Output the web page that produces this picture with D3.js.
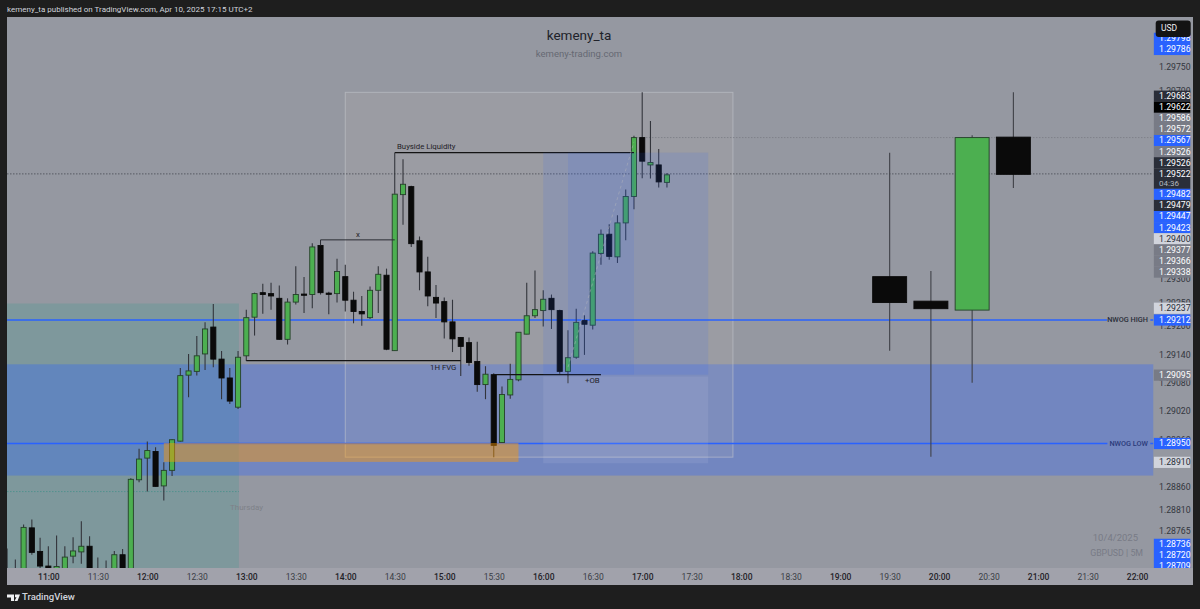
<!DOCTYPE html>
<html>
<head>
<meta charset="utf-8">
<script src="https://cdn.jsdelivr.net/npm/d3@7"></script>
<style>
  html, body { margin: 0; padding: 0; background: #1e1e1e; overflow: hidden; }
  text { font-family: Roboto, "Liberation Sans", sans-serif; }
</style>
</head>
<body>
<div id="wrapper"></div>
<script>
// 5 minute candles, first one is 10:35
const firstCandle = "10:35"
const opens = [
  1.28670,1.28670,1.28650,1.28771,1.28721,1.28690,1.28670,1.28638,1.28711,1.28720,
  1.28732,1.28670,1.28670,1.28640,1.28714,1.28640,1.28873,1.28919,1.28933,1.28860,
  1.28893,1.28955,1.29095,1.29103,1.29140,1.29197,1.29129,1.29089,1.29027,1.29136,
  1.29218,1.29270,1.29268,1.29258,1.29171,1.29250,1.29267,1.29266,1.29370,1.29269,
  1.29268,1.29304,1.29254,1.29230,1.29217,1.29275,1.29307,1.29147,1.29478,1.29495,
  1.29380,1.29314,1.29260,1.29251,1.29208,1.29175,1.29164,1.29124,1.29075,1.29096,
  1.28952,1.29053,1.29085,1.29182,1.29221,1.29232,1.29258,1.29232,1.29103,1.29133,
  1.29211,1.29201,1.29353,1.29394,1.29346,1.29418,1.29474,1.29599,1.29541,1.29541,1.29504]
const closes = [
  1.28650,1.28660,1.28772,1.28719,1.28690,1.28676,1.28689,1.28709,1.28722,1.28732,
  1.28638,1.28660,1.28660,1.28714,1.28640,1.28874,1.28917,1.28935,1.28859,1.28893,
  1.28958,1.29094,1.29104,1.29136,1.29193,1.29129,1.29089,1.29040,1.29133,1.29217,
  1.29268,1.29266,1.29263,1.29171,1.29250,1.29266,1.29265,1.29367,1.29270,1.29267,
  1.29315,1.29254,1.29230,1.29225,1.29275,1.29309,1.29150,1.29479,1.29500,1.29374,
  1.29314,1.29263,1.29248,1.29208,1.29172,1.29156,1.29122,1.29075,1.29097,1.28946,
  1.29054,1.29086,1.29186,1.29221,1.29234,1.29256,1.29234,1.29103,1.29132,1.29207,
  1.29203,1.29354,1.29394,1.29347,1.29418,1.29474,1.29599,1.29549,1.29546,1.29505,1.29520]
const highs = [
  1.28727,1.28704,1.28778,1.28789,1.28750,1.28732,1.28755,1.28732,1.28751,1.28785,
  1.28753,1.28708,1.28702,1.28722,1.28726,1.28876,1.28939,1.28954,1.28942,1.28910,
  1.28959,1.29110,1.29140,1.29178,1.29207,1.29246,1.29146,1.29110,1.29146,1.29234,
  1.29270,1.29289,1.29291,1.29285,1.29258,1.29326,1.29303,1.29375,1.29372,1.29272,
  1.29342,1.29329,1.29272,1.29263,1.29283,1.29326,1.29321,1.29481,1.29553,1.29497,
  1.29389,1.29346,1.29286,1.29260,1.29255,1.29176,1.29175,1.29166,1.29114,1.29099,
  1.29071,1.29119,1.29186,1.29291,1.29317,1.29275,1.29266,1.29234,1.29190,1.29236,
  1.29222,1.29358,1.29404,1.29415,1.29434,1.29489,1.29603,1.29695,1.29634,1.29575,1.29524]
const lows = [
  1.28640,1.28650,1.28640,1.28714,1.28676,1.28649,1.28650,1.28630,1.28696,1.28695,
  1.28630,1.28650,1.28650,1.28630,1.28630,1.28630,1.28868,1.28848,1.28858,1.28829,
  1.28881,1.28954,1.29048,1.29094,1.29106,1.29112,1.29044,1.29034,1.29023,1.29125,
  1.29179,1.29225,1.29234,1.29170,1.29160,1.29245,1.29227,1.29237,1.29266,1.29224,
  1.29249,1.29230,1.29205,1.29200,1.29214,1.29227,1.29148,1.29147,1.29414,1.29367,
  1.29275,1.29241,1.29216,1.29173,1.29144,1.29093,1.29115,1.29060,1.29044,1.28921,
  1.28952,1.29045,1.29082,1.29182,1.29216,1.29198,1.29193,1.29098,1.29078,1.29130,
  1.29138,1.29192,1.29329,1.29340,1.29333,1.29381,1.29447,1.29513,1.29512,1.29493,1.29493]

// the four big candles on the right
const bigTimes = ["19:30", "19:55", "20:20", "20:45"]
const bigOpens = [1.29304, 1.29252, 1.29233, 1.29600]
const bigHighs = [1.29567, 1.29316, 1.29604, 1.29695]
const bigLows = [1.29147, 1.28922, 1.29079, 1.29492]
const bigCloses = [1.29249, 1.29236, 1.29599, 1.29521]

// price axis
const priceTicks = [1.29750, 1.29700, 1.29300, 1.29250, 1.29200, 1.29140, 1.29080, 1.29020, 1.28960, 1.28860, 1.28810, 1.28765]
const labelPrices = [1.29798, 1.29786, 1.29683, 1.29622, 1.29586, 1.29572, 1.29567, 1.29526, 1.29526, 1.29522, 1.29482, 1.29479, 1.29447, 1.29423, 1.29400, 1.29377, 1.29366, 1.29338, 1.29237, 1.29212, 1.29095, 1.28950, 1.28910, 1.28736, 1.28720, 1.28709]
const labelKinds = ["blue", "blue", "dark", "black", "gray", "gray", "blue", "gray", "dark", "current", "blue", "dark", "blue", "blue", "light", "gray", "gray", "gray", "light", "blue", "gray", "blue", "light", "blue", "blue", "blue"]
const currentPrice = 1.29522
const countdown = "04:36"

// drawn levels
const nwogHigh = 1.29212
const nwogLow = 1.28950
const buysideLevel = 1.29567
const xLevel = 1.29382
const xLevelEnd = 1.29370
const fvgLevel = 1.29126
const obLevel = 1.29096
const highLevel = 1.29599

const dimensions = {
  width: 1200,
  height: 609,
  left: 7,
  top: 17,
  plotRight: 1153.5,
  right: 1193,
  plotBottom: 568,
  bottom: 585,
}

const at = s => {
  const [h, m, sec] = s.split(":").map(Number)
  return new Date(2025, 3, 10, h, m, sec || 0)
}

const wrapper = d3.select("#wrapper")
  .append("svg")
    .attr("width", dimensions.width)
    .attr("height", dimensions.height)
    .style("display", "block")

const xScale = d3.scaleTime()
  .domain([at("10:35"), at("22:10")])
  .range([7.1, 1153.6])

const yScale = d3.scaleLinear()
  .domain([1.28685, 1.29854])
  .range([568.4, 17.4])

const x = s => xScale(at(s))
const y = p => yScale(p)

// background
wrapper.append("rect")
  .attr("width", dimensions.width).attr("height", dimensions.height)
  .attr("fill", "#1e1e1e")
wrapper.append("rect")
  .attr("x", dimensions.left).attr("y", dimensions.top)
  .attr("width", dimensions.right - dimensions.left)
  .attr("height", dimensions.bottom - dimensions.top)
  .attr("fill", "#9598a1")
wrapper.append("rect")
  .attr("x", dimensions.left).attr("y", dimensions.plotBottom)
  .attr("width", dimensions.right - dimensions.left)
  .attr("height", dimensions.bottom - dimensions.plotBottom)
  .attr("fill", "#a1a2ab")

const defs = wrapper.append("defs")
defs.append("clipPath").attr("id", "plot").append("rect")
  .attr("x", dimensions.left).attr("y", dimensions.top)
  .attr("width", dimensions.plotRight - dimensions.left)
  .attr("height", dimensions.plotBottom - dimensions.top)
defs.append("clipPath").attr("id", "scale").append("rect")
  .attr("x", dimensions.plotRight).attr("y", dimensions.top)
  .attr("width", dimensions.right - dimensions.plotRight)
  .attr("height", dimensions.plotBottom - dimensions.top)

const plot = wrapper.append("g").attr("clip-path", "url(#plot)")

const zone = (t0, t1, p0, p1, fill, opacity) => plot.append("rect")
  .attr("x", t0 === null ? dimensions.left : x(t0))
  .attr("width", (t1 === null ? dimensions.plotRight : x(t1)) - (t0 === null ? dimensions.left : x(t0)))
  .attr("y", y(p0))
  .attr("height", y(p1) - y(p0))
  .attr("fill", fill)
  .attr("fill-opacity", opacity)

const hline = (t0, t1, p, stroke, width, dash) => plot.append("line")
  .attr("x1", t0 === null ? dimensions.left : x(t0))
  .attr("x2", t1 === null ? dimensions.plotRight : x(t1))
  .attr("y1", y(p)).attr("y2", y(p))
  .attr("stroke", stroke)
  .attr("stroke-width", width)
  .attr("stroke-dasharray", dash)

// zones below the candles
zone(null, "12:55:30", 1.29247, 1.28600, "#089981", 0.16)
zone(null, null, 1.29118, 1.28882, "#2962ff", 0.33)
hline(null, "12:55:30", 1.28848, "#3f8f88", 0.7, "1.5 1.5")

// big grey box
plot.append("rect")
  .attr("x", x("14:00")).attr("width", x("17:55") - x("14:00"))
  .attr("y", y(1.29695)).attr("height", y(1.28921) - y(1.29695))
  .attr("fill", "#b8b6b0").attr("fill-opacity", 0.16)
  .attr("stroke", "#c6c8ce").attr("stroke-opacity", 0.55).attr("stroke-width", 1)

// levels
hline(null, "21:42", nwogHigh, "#2962ff", 1.3)
hline("22:08", null, nwogHigh, "#2962ff", 1.3)
hline(null, "21:42", nwogLow, "#2962ff", 1.3)
hline("22:08", null, nwogLow, "#2962ff", 1.3)
hline(null, null, currentPrice, "#50535c", 0.9, "1.5 1.5")
hline("16:55", null, highLevel, "#7d7f88", 0.9, "1.5 1.5")

// candles
const candles = opens.map((o, i) => ({
  time: d3.timeMinute.offset(at(firstCandle), i * 5),
  open: o, high: highs[i], low: lows[i], close: closes[i],
}))
const bigCandles = bigTimes.map((t, i) => ({
  time: at(t),
  open: bigOpens[i], high: bigHighs[i], low: bigLows[i], close: bigCloses[i],
}))
const isUp = d => d.close >= d.open

const drawCandles = (data, halfMinutes, wickColor, wickWidth) => {
  const g = plot.append("g")
  const groups = g.selectAll("g").data(data).join("g")
  groups.append("line")
    .attr("x1", d => xScale(d.time)).attr("x2", d => xScale(d.time))
    .attr("y1", d => y(d.high)).attr("y2", d => y(d.low))
    .attr("stroke", wickColor)
    .attr("stroke-width", wickWidth)
  groups.append("rect")
    .attr("x", d => xScale(d3.timeSecond.offset(d.time, -halfMinutes * 60)))
    .attr("width", d => xScale(d3.timeSecond.offset(d.time, halfMinutes * 60)) - xScale(d3.timeSecond.offset(d.time, -halfMinutes * 60)))
    .attr("y", d => y(Math.max(d.open, d.close)))
    .attr("height", d => Math.max(1.2, y(Math.min(d.open, d.close)) - y(Math.max(d.open, d.close))))
    .attr("fill", d => isUp(d) ? "#4caf50" : "#0a0a0a")
    .attr("stroke", d => isUp(d) ? "#25402a" : "#0a0a0a")
    .attr("stroke-width", 0.9)
}
drawCandles(candles, 1.55, "#33353c", 1.1)
drawCandles(bigCandles, 10.3, "#3f4148", 1.1)

// trendlines and their labels
const annotationLine = (x1, y1, x2, y2, stroke, width) => plot.append("line")
  .attr("x1", x1).attr("y1", y1).attr("x2", x2).attr("y2", y2)
  .attr("stroke", stroke).attr("stroke-width", width)

annotationLine(x("14:30"), y(buysideLevel), x("16:55"), y(buysideLevel), "#131313", 1.2)
annotationLine(x("14:30"), y(buysideLevel), x("14:30"), y(1.29481), "#2a2c33", 1)
annotationLine(x("13:45"), y(xLevel), x("14:30"), y(xLevel), "#2a2c33", 1)
annotationLine(x("13:45"), y(xLevel), x("13:45"), y(xLevelEnd), "#2a2c33", 1)
annotationLine(x("13:00"), y(fvgLevel), x("15:10"), y(fvgLevel), "#131313", 1.2)
annotationLine(x("15:30"), y(obLevel), x("16:35"), y(obLevel), "#131313", 1.2)

// zones on top of the candles
zone("12:10", "15:45", 1.28951, 1.28911, "#ff9800", 0.45)
zone("16:00", "17:40", buysideLevel, obLevel, "#2962ff", 0.12)
zone("16:15", "16:55", buysideLevel, obLevel, "#2962ff", 0.1)
zone("16:00", "17:40", 1.29092, 1.28908, "#ffffff", 0.08)
plot.append("line")
  .attr("x1", x("16:15")).attr("y1", y(1.29112))
  .attr("x2", x("16:55")).attr("y2", y(1.29590))
  .attr("stroke", "#b3b5bc").attr("stroke-opacity", 0.55)
  .attr("stroke-width", 0.9).attr("stroke-dasharray", "3 3")

const label = (text, lx, ly, size, fill, anchor, weight) => wrapper.append("text")
  .attr("x", lx).attr("y", ly)
  .attr("font-size", size)
  .attr("fill", fill)
  .attr("text-anchor", anchor || "start")
  .attr("font-weight", weight || 400)
  .attr("dominant-baseline", "middle")
  .text(text)

label("Buyside Liquidity", 397, 147, 7.8, "#1f2127")
label("x", 358, 235, 7.8, "#1f2127", "middle")
label("1H FVG", 430, 367.5, 7.8, "#1f2127")
label("+OB", 585, 380.5, 7.8, "#1f2127")
label("NWOG HIGH", 1148, y(nwogHigh) + 0.5, 7.3, "#2a2e39", "end", 500)
label("NWOG LOW", 1148, y(nwogLow) + 0.5, 7.3, "#2b3b7a", "end", 500)
label("Thursday", 246.5, 507.5, 8, "#7e8188", "middle")
label("kemeny_ta", 579, 36, 13.5, "#20222a", "middle")
label("kemeny-trading.com", 579, 54.5, 9.5, "#666973", "middle")
label("10/4/2025", 1138, 538, 9.5, "#787b86", "end")
label("GBPUSD | 5M", 1143, 553.5, 8.8, "#787b86", "end")

// time axis
const timeAxis = d3.axisBottom(xScale)
  .tickValues(d3.timeMinute.range(at("11:00"), at("22:01"), 30))
  .tickFormat(d3.timeFormat("%H:%M"))
  .tickSize(0)
const timeAxisG = wrapper.append("g")
  .attr("transform", `translate(0,${dimensions.plotBottom})`)
  .call(timeAxis)
timeAxisG.select(".domain").remove()
timeAxisG.selectAll("text")
  .attr("dy", 0).attr("y", 9.5)
  .attr("dominant-baseline", "middle")
  .attr("font-family", "Roboto")
  .attr("font-size", 8.5)
  .attr("fill", d => d.getMinutes() === 0 ? "#1f2127" : "#3a3d45")
  .attr("font-weight", d => d.getMinutes() === 0 ? 500 : 400)

// price axis
const priceAxis = d3.axisRight(yScale)
  .tickValues(priceTicks)
  .tickFormat(d3.format(".5f"))
  .tickSize(0)
const priceAxisG = wrapper.append("g")
  .attr("transform", `translate(1159,0.5)`)
  .call(priceAxis)
priceAxisG.select(".domain").remove()
priceAxisG.selectAll("text")
  .attr("x", 0)
  .attr("font-family", "Roboto")
  .attr("font-size", 8.7)
  .attr("fill", "#33363e")

// price labels are stacked away from the current price, like the real scale does
const labelStep = 11.1
const countdownExtra = 9.4
const anchorIndex = labelKinds.indexOf("current")
const labelY = labelPrices.map(y)
for (let i = anchorIndex - 1; i >= 0; i--) {
  labelY[i] = Math.min(labelY[i], labelY[i + 1] - labelStep)
}
for (let i = anchorIndex + 1; i < labelY.length; i++) {
  const step = i === anchorIndex + 1 ? labelStep + countdownExtra : labelStep
  labelY[i] = Math.max(labelY[i], labelY[i - 1] + step)
}
const kindFill = { blue: "#2962ff", dark: "#2a2e39", black: "#000000", gray: "#787b86", light: "#d1d4dc", current: "#2a2e39" }
const kindText = { blue: "#ffffff", dark: "#ffffff", black: "#ffffff", gray: "#ffffff", light: "#2a2e39", current: "#ffffff" }

const labelsG = wrapper.append("g").attr("clip-path", "url(#scale)")
const labels = labelsG.selectAll("g").data(labelPrices).join("g")
  .attr("transform", (d, i) => `translate(1153.7,${labelY[i]})`)
labels.append("rect")
  .attr("x", 0)
  .attr("y", -5.6)
  .attr("width", 36.6)
  .attr("height", (d, i) => labelKinds[i] === "current" ? 11.2 + countdownExtra : 11.2)
  .attr("fill", (d, i) => kindFill[labelKinds[i]])
labels.append("text")
  .attr("x", 5.3)
  .attr("y", 0.6)
  .attr("dominant-baseline", "middle")
  .attr("font-size", 8.7)
  .attr("fill", (d, i) => kindText[labelKinds[i]])
  .text(d => d3.format(".5f")(d))
labelsG.append("text")
  .attr("x", 1159).attr("y", labelY[anchorIndex] + 10)
  .attr("dominant-baseline", "middle")
  .attr("font-size", 8)
  .attr("fill", "#b2b5be")
  .text(countdown)

// USD button
wrapper.append("rect")
  .attr("x", 1155.7).attr("y", 20.5).attr("width", 35).attr("height", 16.5)
  .attr("rx", 3).attr("fill", "#131313")
label("USD", 1161, 29, 8.5, "#f0f1f3")

// header and footer
label("kemeny_ta published on TradingView.com, Apr 10, 2025 17:15 UTC+2", 7, 10, 8, "#d1d4dc")
wrapper.append("path")
  .attr("d", "M7 594.5H14V601H11V597.5H7ZM15 594.5H20L17.5 601H14.5L16.5 597.2H15Z")
  .attr("fill", "#f0f1f3")
label("TradingView", 22, 597.5, 9.5, "#d1d4dc", "start", 500)
</script>
</body>
</html>
